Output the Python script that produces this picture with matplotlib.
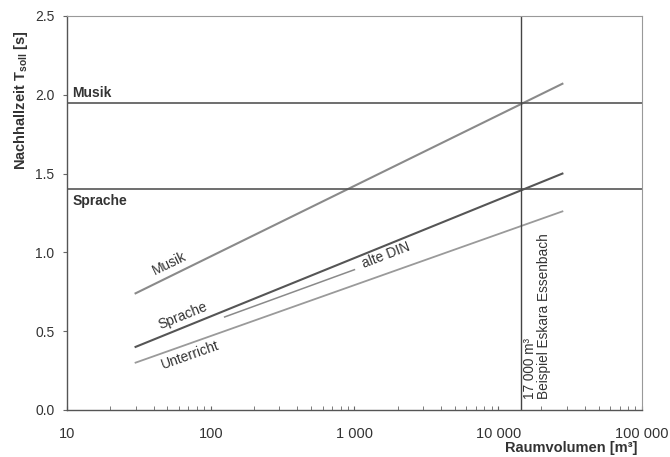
import matplotlib
matplotlib.use("Agg")
import matplotlib.pyplot as plt
from matplotlib.ticker import FixedLocator, LogLocator, NullFormatter

plt.rcParams['font.family'] = ['Liberation Sans', 'DejaVu Sans']

# Data
vol = [30, 28000]
musik = [0.74, 2.07]
sprache = [0.40, 1.50]
unterricht = [0.30, 1.26]
alte_din_vol = [125, 1000]
alte_din = [0.59, 0.89]
musik_level = 1.95
sprache_level = 1.40
example_vol = 14500

xticks = [10, 100, 1000, 10000, 100000]
xticklabels = ["10", "100", "1 000", "10 000", "100 000"]
yticks = [0.0, 0.5, 1.0, 1.5, 2.0, 2.5]
yticklabels = ["0.0", "0.5", "1.0", "1.5", "2.0", "2.5"]

fig = plt.figure(figsize=(6.7, 4.57), dpi=100)
ax = fig.add_axes([0.1, 0.103, 0.858, 0.862])
ax.set_xscale('log')
ax.set_xlim(10, 100000)
ax.set_ylim(0, 2.5)

ax.plot(vol, musik, color='#8a8a8a', lw=1.5)
ax.plot(vol, sprache, color='#555555', lw=1.5)
ax.plot(vol, unterricht, color='#9a9a9a', lw=1.3)
ax.plot(alte_din_vol, alte_din, color='#8a8a8a', lw=1.1)
ax.axhline(musik_level, color='#555555', lw=1.2)
ax.axhline(sprache_level, color='#555555', lw=1.2)
ax.axvline(example_vol, color='#444444', lw=1.0)

ax.xaxis.set_major_locator(FixedLocator(xticks))
ax.set_xticklabels(xticklabels)
ax.xaxis.set_minor_locator(LogLocator(base=10, subs=range(2, 10)))
ax.xaxis.set_minor_formatter(NullFormatter())
ax.set_yticks(yticks)
ax.set_yticklabels(yticklabels)
ax.tick_params(axis='both', which='major', labelsize=10, color='#666666', labelcolor='#333333', length=3, width=0.8)
ax.tick_params(axis='x', which='both', direction='in', length=3)
ax.tick_params(axis='x', which='major', labelsize=10.5, pad=12)
ax.tick_params(axis='x', which='minor', color='#666666', length=3)
ax.tick_params(axis='y', direction='out', length=3, pad=6)
for side in ['left', 'bottom']:
    ax.spines[side].set_color('#555555')
    ax.spines[side].set_linewidth(1.0)
for side in ['top', 'right']:
    ax.spines[side].set_color('#999999')
    ax.spines[side].set_linewidth(0.8)

# level labels
ax.text(10.9, musik_level + 0.015, "Musik", fontsize=10, fontweight='bold', color='#333333', ha='left', va='bottom')
ax.text(10.9, sprache_level - 0.03, "Sprache", fontsize=10, fontweight='bold', color='#333333', ha='left', va='top')

# line labels
ax.text(52, 0.93, "Musik", fontsize=10, color='#333333', rotation=26, ha='center', va='center', rotation_mode='anchor')
ax.text(64, 0.60, "Sprache", fontsize=10, color='#333333', rotation=22, ha='center', va='center', rotation_mode='anchor')
ax.text(72, 0.35, "Unterricht", fontsize=10, color='#333333', rotation=19.5, ha='center', va='center', rotation_mode='anchor')
ax.text(1650, 0.98, "alte DIN", fontsize=10, color='#333333', rotation=21, ha='center', va='center', rotation_mode='anchor')

# example annotation
ax.text(14900, 0.07, "17 000 m³\nBeispiel Eskara Essenbach", fontsize=9.8, color='#333333',
        rotation=90, ha='left', va='bottom', linespacing=1.0)

fig.text(0.031, 0.78, "Nachhallzeit T$_{\\mathregular{soll}}$ [s]", rotation=90, fontsize=10.5,
         fontweight='bold', color='#333333', ha='center', va='center')
fig.text(0.952, 0.004, "Raumvolumen [m³]", fontsize=10.5, fontweight='bold', color='#333333', ha='right', va='bottom')

fig.savefig("out.png", dpi=100)
